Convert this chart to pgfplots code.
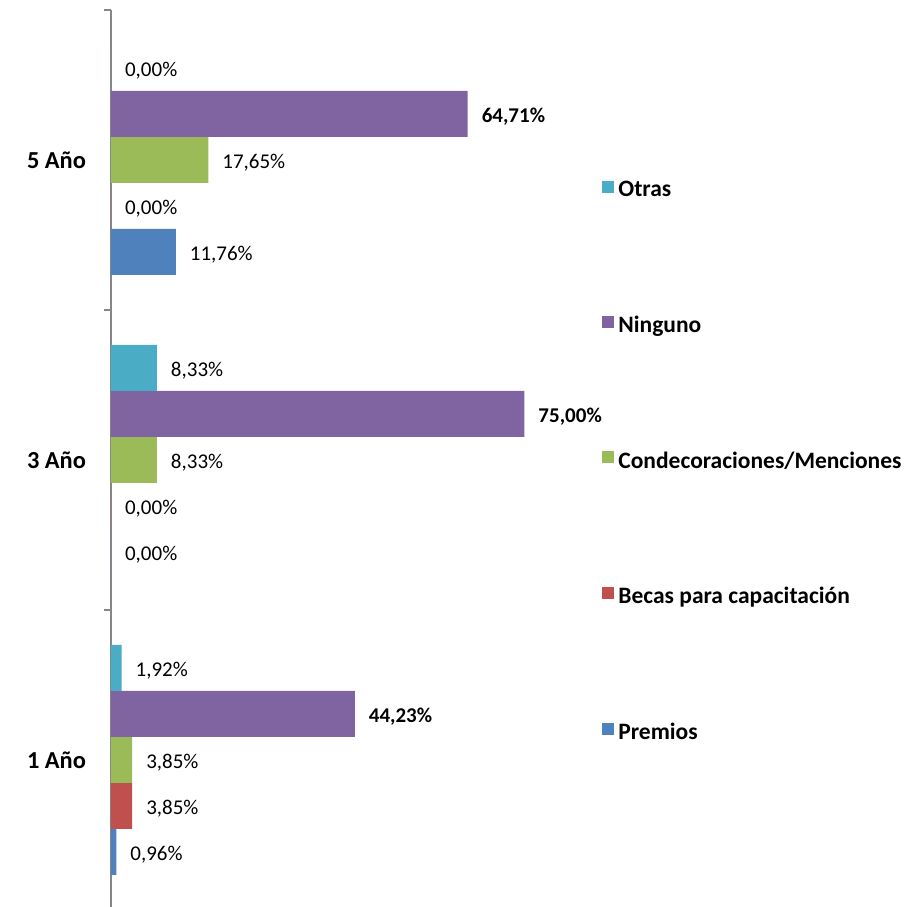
\documentclass[border=0pt]{standalone}
\usepackage{pgfplots}
\pgfplotsset{compat=1.18}
\usepackage{fontspec}
\setmainfont{Carlito}
\definecolor{cPremios}{HTML}{4F81BD}
\definecolor{cBecas}{HTML}{C0504D}
\definecolor{cCond}{HTML}{9BBB59}
\definecolor{cNing}{HTML}{8064A2}
\definecolor{cOtras}{HTML}{4BACC6}
\definecolor{axgray}{HTML}{868686}
\begin{document}
\begin{tikzpicture}
\path[use as bounding box] (0,0) rectangle (453pt,453.5pt);
\begin{axis}[
  at={(55.5pt,448.5pt)}, anchor=north west,
  scale only axis, width=220.5pt, height=450pt,
  xmin=0, xmax=80, ymin=-0.5, ymax=2.5,
  xbar=0pt, bar width=23pt,
  axis x line=none, axis y line*=left,
  y axis line style={axgray, line width=0.7pt, -},
  ytick={0,1,2}, yticklabels={1 Año,3 Año,5 Año},
  major tick length=0pt,
  yticklabel style={font=\bfseries\fontsize{12.2}{14}\selectfont, xshift=-9pt},
  extra y ticks={0.5,1.5,2.5}, extra y tick labels={},
  extra y tick style={major tick length=3.5pt, tick align=outside, tick style={axgray, line width=0.7pt}},
  tick pos=left,
  point meta=x,
  nodes near coords={\pgfmathprintnumber[fixed,fixed zerofill,precision=2,use comma,assume math mode=true]{\pgfplotspointmeta}\%},
  nodes near coords style={font=\fontsize{10.5}{12}\selectfont, anchor=west, xshift=3.5pt, yshift=-1.5pt, black},
  clip=false,
  legend style={draw=none, at={(1.1134,0.8145)}, anchor=north west,
    font=\bfseries\fontsize{11.75}{13}\selectfont, row sep=54.1pt, inner sep=0pt,
    legend cell align=left},
  reverse legend,
  legend image code/.code={\fill[#1] (0pt,-1pt) rectangle (6pt,5pt);},
]
\addplot[fill=cPremios, draw=none] coordinates {(0.96,0) (0,1) (11.76,2)};
\addplot[fill=cBecas, draw=none] coordinates {(3.85,0) (0,1) (0,2)};
\addplot[fill=cCond, draw=none] coordinates {(3.85,0) (8.33,1) (17.65,2)};
\addplot[fill=cNing, draw=none, nodes near coords style={font=\bfseries\fontsize{10.5}{12}\selectfont}] coordinates {(44.23,0) (75.00,1) (64.71,2)};
\addplot[fill=cOtras, draw=none] coordinates {(1.92,0) (8.33,1) (0,2)};
\legend{Premios,Becas para capacitación,Condecoraciones/Menciones,Ninguno,Otras}
\end{axis}
\end{tikzpicture}
\end{document}
